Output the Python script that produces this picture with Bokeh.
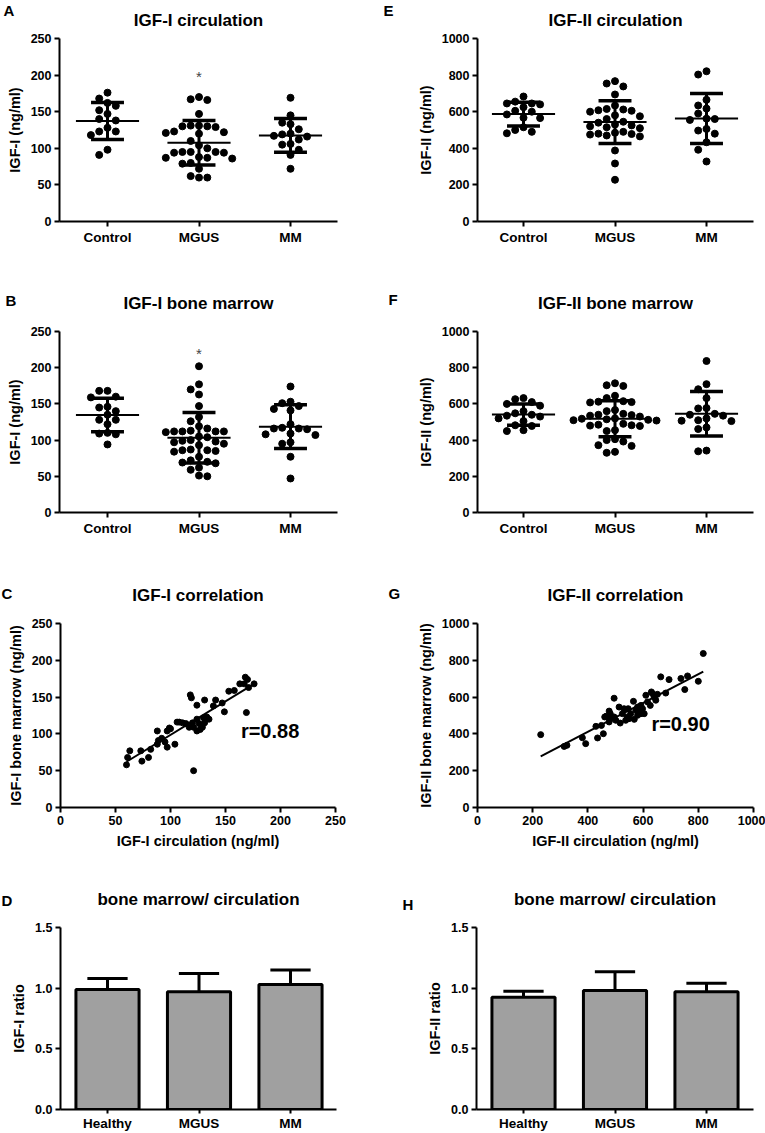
import numpy as np
from bokeh.plotting import figure
from bokeh.models import Range1d, FixedTicker, Label, PrintfTickFormatter, Title
from bokeh.layouts import column, row
from bokeh.embed import file_html
from bokeh.resources import INLINE

# ---------------- data ----------------
GROUPS = ["Control", "MGUS", "MM"]
RATIO_GROUPS = ["Healthy", "MGUS", "MM"]

IGF1_CIRC_CONTROL = [176, 168, 162, 158, 152, 147, 140, 138, 128, 123, 123, 118, 98, 91]
IGF1_CIRC_MGUS = [170, 167, 166, 147, 131, 131, 130, 130, 129, 123, 122, 121, 120, 110, 104, 100,
                  95, 95, 95, 94, 94, 88, 87, 87, 86, 80, 79, 72, 62, 60, 60]
IGF1_CIRC_MM = [169, 145, 135, 133, 126, 120, 119, 117, 116, 112, 106, 105, 98, 91, 72]

IGF1_BM_CONTROL = [168, 168, 160, 159, 146, 145, 140, 135, 128, 128, 122, 110, 109, 108, 94]
IGF1_BM_MGUS = [202, 177, 170, 163, 147, 132, 126, 119, 116, 113, 112, 112, 112, 112, 111, 105,
                104, 100, 99, 98, 97, 95, 93, 87, 86, 86, 85, 84, 77, 72, 70, 69, 68, 62, 59, 51, 50]
IGF1_BM_MM = [174, 153, 151, 147, 143, 141, 122, 117, 116, 116, 115, 109, 108, 107, 97, 95, 77, 47]

IGF2_CIRC_CONTROL = [683, 655, 645, 645, 640, 625, 605, 600, 585, 567, 565, 515, 500, 490, 482]
IGF2_CIRC_MGUS = [767, 754, 738, 694, 634, 615, 612, 608, 605, 600, 580, 575, 560, 545, 540, 530,
                  525, 520, 515, 510, 490, 485, 480, 478, 475, 470, 465, 388, 317, 228]
IGF2_CIRC_MM = [821, 803, 665, 634, 617, 590, 562, 560, 555, 506, 497, 480, 433, 392, 328]

IGF2_BM_CONTROL = [632, 626, 610, 600, 590, 560, 548, 540, 535, 530, 520, 505, 482, 478, 455, 450]
IGF2_BM_MGUS = [714, 703, 699, 645, 632, 615, 612, 610, 608, 566, 560, 545, 540, 538, 535, 530,
                520, 518, 515, 512, 510, 508, 490, 485, 482, 480, 478, 455, 450, 405, 400, 392,
                372, 368, 335, 330]
IGF2_BM_MM = [837, 709, 681, 632, 577, 575, 545, 540, 535, 520, 510, 507, 505, 470, 461, 342, 338]

CORR1_CIRC = [60, 61, 63, 73, 74, 80, 82, 88, 88, 89, 92, 95, 97, 97, 99, 100, 104, 106, 108, 111,
              114, 117, 118, 119, 120, 121, 121, 124, 124, 124, 126, 127, 129, 130, 131, 131, 133,
              135, 139, 141, 147, 149, 153, 158, 163, 167, 168, 170, 171, 169, 176]
CORR1_BM = [58, 68, 77, 77, 63, 68, 79, 104, 86, 91, 94, 89, 104, 82, 108, 107, 86, 116, 116, 115,
            114, 109, 153, 149, 115, 50, 109, 139, 120, 104, 114, 106, 109, 122, 146, 115, 123,
            120, 138, 146, 142, 130, 158, 159, 168, 168, 177, 174, 163, 129, 168]
CORR1_TEXT = "r=0.88"

CORR2_CIRC = [229, 314, 324, 380, 392, 435, 429, 456, 449, 461, 466, 477, 477, 481, 483, 495, 495,
              501, 513, 517, 525, 531, 537, 543, 546, 549, 555, 565, 568, 574, 580, 580, 586, 592,
              592, 598, 604, 610, 616, 626, 630, 634, 640, 646, 652, 664, 682, 694, 737, 751, 761,
              800, 818]
CORR2_BM = [396, 332, 338, 379, 347, 378, 441, 401, 446, 492, 496, 524, 465, 510, 483, 594, 492,
            474, 546, 459, 510, 537, 474, 492, 537, 483, 510, 577, 479, 528, 546, 501, 524, 555,
            510, 537, 510, 610, 574, 555, 628, 619, 601, 583, 615, 710, 622, 695, 701, 641, 715,
            686, 837]
CORR2_TEXT = "r=0.90"

RATIO1 = [0.99, 0.97, 1.03]
RATIO1_ERR = [0.09, 0.15, 0.12]
RATIO2 = [0.925, 0.98, 0.97]
RATIO2_ERR = [0.05, 0.155, 0.07]

SIG_GROUP = 1
SIG_A = 198
SIG_B = 220

FONT = "Liberation Sans"
CAT_PX = 91.5


def make_fig(w, h, bl, br, bt, bb, xr, yr, letter, letter_offset, letter_standoff,
             title, title_standoff):
    p = figure(width=w, height=h, output_backend="svg", toolbar_location=None,
               x_range=Range1d(*xr), y_range=Range1d(*yr),
               min_border_left=bl, min_border_right=br, min_border_top=bt, min_border_bottom=bb)
    # panel letter (outermost title, pulled down onto the title line)
    p.title.text = letter
    p.title.align = "left"
    p.title.offset = letter_offset
    p.title.standoff = letter_standoff
    p.title.text_font = FONT
    p.title.text_font_size = "15px"
    p.title.text_font_style = "bold"
    p.title.text_color = "black"
    # chart title
    p.add_layout(Title(text=title, align="center", standoff=title_standoff, text_font=FONT,
                       text_font_size="17px", text_font_style="bold", text_color="black"),
                 "above")
    p.xgrid.visible = False
    p.ygrid.visible = False
    p.outline_line_color = None
    p.background_fill_color = "white"
    p.border_fill_color = "white"
    for ax in (p.xaxis[0], p.yaxis[0]):
        ax.axis_line_width = 2
        ax.axis_line_color = "black"
        ax.major_tick_line_width = 2
        ax.major_tick_line_color = "black"
        ax.major_tick_out = 5
        ax.major_tick_in = 0
        ax.minor_tick_line_color = None
        ax.major_label_text_font = FONT
        ax.major_label_text_font_style = "bold"
        ax.major_label_text_font_size = "12.5px"
        ax.major_label_text_color = "black"
        ax.major_label_standoff = 3
        ax.axis_label_text_font = FONT
        ax.axis_label_text_font_style = "bold"
        ax.axis_label_text_font_size = "14.5px"
        ax.axis_label_text_color = "black"
        ax.axis_label_standoff = 5
    return p


def set_categories(p, labels):
    p.xaxis.ticker = FixedTicker(ticks=list(range(len(labels))))
    p.xaxis.major_label_overrides = {i: lab_ for i, lab_ in enumerate(labels)}
    p.xaxis.major_label_text_font_size = "13.5px"


def swarm(vals, ypx, step_px=8.3, dot=8.0):
    order = [0]
    for i in range(1, 30):
        order += [-i, i]
    placed, offs = [], []
    for v in vals:
        for k in order:
            ok = True
            for pk, pv in placed:
                dx = (k - pk) * step_px
                dy = (v - pv) * ypx
                if dx * dx + dy * dy < dot * dot:
                    ok = False
                    break
            if ok:
                break
        placed.append((k, v))
        offs.append(k * step_px / CAT_PX)
    return offs


def dot_panel(p, groups, ypx):
    for i, vals in enumerate(groups):
        offs = swarm(vals, ypx)
        p.scatter([i + o for o in offs], vals, size=7, marker="circle",
                  fill_color="black", line_color="black")
        m = float(np.mean(vals))
        s = float(np.std(vals, ddof=1))
        p.segment(x0=[i - 0.345], y0=[m], x1=[i + 0.345], y1=[m], line_width=2, line_color="black")
        p.segment(x0=[i], y0=[m - s], x1=[i], y1=[m + s], line_width=3, line_color="black")
        p.segment(x0=[i - 0.18, i - 0.18], y0=[m - s, m + s], x1=[i + 0.18, i + 0.18],
                  y1=[m - s, m + s], line_width=3.5, line_color="black")


def corr_panel(p, xs, ys, txt, tx, ty):
    p.scatter(xs, ys, size=6, marker="circle", fill_color="black", line_color="black")
    a, b = np.polyfit(np.array(xs, float), np.array(ys, float), 1)
    x0, x1 = min(xs), max(xs)
    p.line([x0, x1], [a * x0 + b, a * x1 + b], line_width=2, line_color="black")
    p.add_layout(Label(x=tx, y=ty, text=txt, text_font=FONT, text_font_size="20px",
                       text_font_style="bold", text_baseline="middle", text_align="left",
                       text_color="black"))


def bar_panel(p, vals, errs):
    xs = list(range(len(vals)))
    p.vbar(x=xs, top=vals, bottom=0, width=0.69, fill_color="#a0a0a0", line_color="black",
           line_width=3)
    tops = [v + e for v, e in zip(vals, errs)]
    p.segment(x0=xs, y0=vals, x1=xs, y1=tops, line_width=3, line_color="black")
    p.segment(x0=[x - 0.22 for x in xs], y0=tops, x1=[x + 0.22 for x in xs], y1=tops,
              line_width=3, line_color="black")


def sig(p, x, y):
    p.add_layout(Label(x=x, y=y, text="*", text_font=FONT, text_font_size="15px",
                       text_baseline="middle", text_align="center", text_color="#444444"))


LW, RW = 380, 385
H1, H2, H3, H4 = 250, 288, 320, 275
XR_L = (-48 / CAT_PX, 230 / CAT_PX)
XR_R = (-46 / CAT_PX, 230 / CAT_PX)
T1 = [0, 50, 100, 150, 200, 250]
T2 = [0, 200, 400, 600, 800, 1000]
TR = [0, 0.5, 1.0, 1.5]

# ---- A ----
pA = make_fig(LW, H1, 59, 43, 38, 29, XR_L, (0, 250), "A", -56, -37, "IGF-I circulation", 17)
set_categories(pA, GROUPS)
pA.yaxis.ticker = FixedTicker(ticks=T1)
pA.yaxis.axis_label = "IGF-I (ng/ml)"
dot_panel(pA, [IGF1_CIRC_CONTROL, IGF1_CIRC_MGUS, IGF1_CIRC_MM], 183 / 250)
sig(pA, SIG_GROUP, SIG_A)

# ---- E ----
pE = make_fig(RW, H1, 97, 12, 38, 29, XR_R, (0, 1000), "E", -94, -37, "IGF-II circulation", 17)
set_categories(pE, GROUPS)
pE.yaxis.ticker = FixedTicker(ticks=T2)
pE.yaxis.axis_label = "IGF-II (ng/ml)"
dot_panel(pE, [IGF2_CIRC_CONTROL, IGF2_CIRC_MGUS, IGF2_CIRC_MM], 183 / 1000)

# ---- B ----
pB = make_fig(LW, H2, 59, 43, 81, 24, XR_L, (0, 250), "B", -54, -71, "IGF-I bone marrow", 37)
set_categories(pB, GROUPS)
pB.yaxis.ticker = FixedTicker(ticks=T1)
pB.yaxis.axis_label = "IGF-I (ng/ml)"
dot_panel(pB, [IGF1_BM_CONTROL, IGF1_BM_MGUS, IGF1_BM_MM], 183 / 250)
sig(pB, SIG_GROUP, SIG_B)

# ---- F ----
pF = make_fig(RW, H2, 97, 12, 81, 24, XR_R, (0, 1000), "F", -89, -69, "IGF-II bone marrow", 37)
set_categories(pF, GROUPS)
pF.yaxis.ticker = FixedTicker(ticks=T2)
pF.yaxis.axis_label = "IGF-II (ng/ml)"
dot_panel(pF, [IGF2_BM_CONTROL, IGF2_BM_MGUS, IGF2_BM_MM], 183 / 1000)

# ---- C ----
pC = make_fig(LW, H3, 60, 45, 85, 51, (0, 250), (0, 250), "C", -59, -73, "IGF-I correlation", 37)
pC.xaxis.ticker = FixedTicker(ticks=T1)
pC.yaxis.ticker = FixedTicker(ticks=T1)
pC.xaxis.axis_label = "IGF-I circulation (ng/ml)"
pC.yaxis.axis_label = "IGF-I bone marrow (ng/ml)"
corr_panel(pC, CORR1_CIRC, CORR1_BM, CORR1_TEXT, 164, 104)

# ---- G ----
pG = make_fig(RW, H3, 97, 12, 85, 51, (0, 1000), (0, 1000), "G", -89, -73, "IGF-II correlation", 37)
pG.xaxis.ticker = FixedTicker(ticks=T2)
pG.yaxis.ticker = FixedTicker(ticks=T2)
pG.xaxis.axis_label = "IGF-II circulation (ng/ml)"
pG.yaxis.axis_label = "IGF-II bone marrow (ng/ml)"
corr_panel(pG, CORR2_CIRC, CORR2_BM, CORR2_TEXT, 630, 452)

# ---- D ----
pD = make_fig(LW, H4, 60, 44, 69, 23, (-47 / CAT_PX, 229 / CAT_PX), (0, 1.5), "D", -59, -79,
              "bone marrow/ circulation", 37)
set_categories(pD, RATIO_GROUPS)
pD.yaxis.ticker = FixedTicker(ticks=TR)
pD.yaxis.formatter = PrintfTickFormatter(format="%.1f")
pD.yaxis.axis_label = "IGF-I ratio"
pD.xaxis.major_tick_out = 4
pD.xaxis.major_label_standoff = 2
bar_panel(pD, RATIO1, RATIO1_ERR)

# ---- H ----
pH = make_fig(RW, H4, 96, 12, 69, 23, (-47 / CAT_PX, 230 / CAT_PX), (0, 1.5), "H", -74, -87,
              "bone marrow/ circulation", 37)
set_categories(pH, RATIO_GROUPS)
pH.yaxis.ticker = FixedTicker(ticks=TR)
pH.yaxis.formatter = PrintfTickFormatter(format="%.1f")
pH.yaxis.axis_label = "IGF-II ratio"
pH.xaxis.major_tick_out = 4
pH.xaxis.major_label_standoff = 2
bar_panel(pH, RATIO2, RATIO2_ERR)

layout = column(row(pA, pE), row(pB, pF), row(pC, pG), row(pD, pH))
open("out.html", "w").write(file_html(layout, INLINE))
